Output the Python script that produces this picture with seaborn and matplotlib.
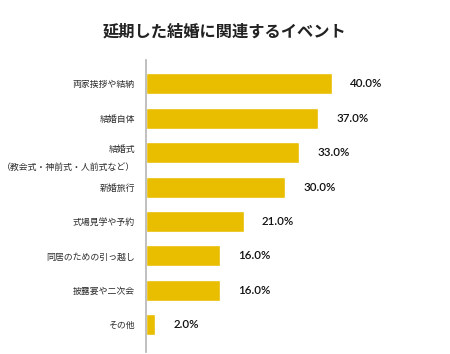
import pandas as pd
import seaborn as sns
import matplotlib.pyplot as plt

# Data
events = ['両家挨拶や結納', '結婚自体', '結婚式\n（教会式・神前式・人前式など）', '新婚旅行',
          '式場見学や予約', '同居のための引っ越し', '披露宴や二次会', 'その他']
percent = [40.0, 37.0, 33.0, 30.0, 21.0, 16.0, 16.0, 2.0]

df = pd.DataFrame({'event': events, 'percent': percent})

sns.set_theme(style='white')
plt.rcParams['font.family'] = ['Noto Sans CJK JP', 'DejaVu Sans']

fig = plt.figure(figsize=(4.5, 3.54), dpi=100)
ax = fig.add_axes([146 / 450, 2 / 354, 1 - 146 / 450, 292 / 354])

sns.barplot(data=df, x='percent', y='event', orient='h', color='#e9bd00',
            saturation=1, width=0.61, ax=ax)

ax.bar_label(ax.containers[0], labels=[f'{v:.1f}%' for v in percent], padding=13,
             fontsize=8.3, fontweight='semibold', family=['Lato', 'DejaVu Sans'],
             color='#111111')

ax.set_xlim(0, 65.4)
ax.set_ylim(7.79, -0.69)
ax.set_xlabel('')
ax.set_ylabel('')
ax.set_xticks([])

for side in ['top', 'right', 'bottom']:
    ax.spines[side].set_visible(False)
ax.spines['left'].set_color('#b5b5b5')
ax.spines['left'].set_linewidth(1.2)

ax.tick_params(axis='y', length=0, pad=8, labelsize=6.4, labelcolor='#2b2b2b')
for lbl in ax.get_yticklabels():
    lbl.set_linespacing(2.35)

fig.text(0.5, 0.91, '延期した結婚に関連するイベント', ha='center', va='center',
         fontsize=11.7, fontweight='bold', color='#222222')

fig.savefig('out.png', dpi=100)
